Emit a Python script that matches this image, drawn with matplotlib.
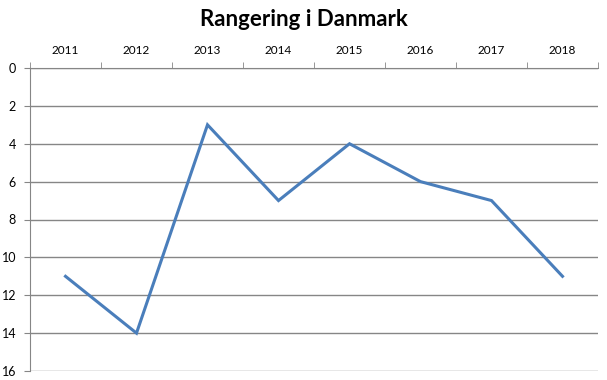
import matplotlib.pyplot as plt
import numpy as np

years = ['2011', '2012', '2013', '2014', '2015', '2016', '2017', '2018']
rank = [11, 14, 3, 7, 4, 6, 7, 11]

plt.rcParams['font.family'] = ['Lato', 'DejaVu Sans']

fig = plt.figure(figsize=(6.07, 3.80), dpi=100)
ax = fig.add_axes([30/607, 1 - 371/380, 568/607, 303/380])

x = np.arange(len(years))
ax.plot(x, rank, color='#4a7ebb', linewidth=2.2, solid_joinstyle='miter')

ax.set_xlim(-0.5, len(years) - 0.5)
ax.set_ylim(16, 0)
ax.set_yticks(range(0, 17, 2))
ax.yaxis.grid(True, color='#868686', linewidth=1)
ax.set_axisbelow(True)

ax.xaxis.tick_top()
ax.set_xticks(x)
ax.set_xticklabels(years)
ax.set_xticks(np.arange(-0.5, len(years)), minor=True)
ax.tick_params(axis='x', which='major', length=0, pad=9, labelsize=8.5)
ax.tick_params(axis='x', which='minor', length=4, color='#868686', direction='out')
ax.tick_params(axis='y', length=4, color='#868686', labelsize=9, pad=6)

for s in ['right', 'bottom']:
    ax.spines[s].set_visible(False)
ax.spines['left'].set_color('#868686')
ax.spines['top'].set_color('#868686')

fig.text(0.5, 1 - 20/380, 'Rangering i Danmark', ha='center', va='center',
         fontsize=16, fontweight='bold')

fig.savefig('out.png', dpi=100)
